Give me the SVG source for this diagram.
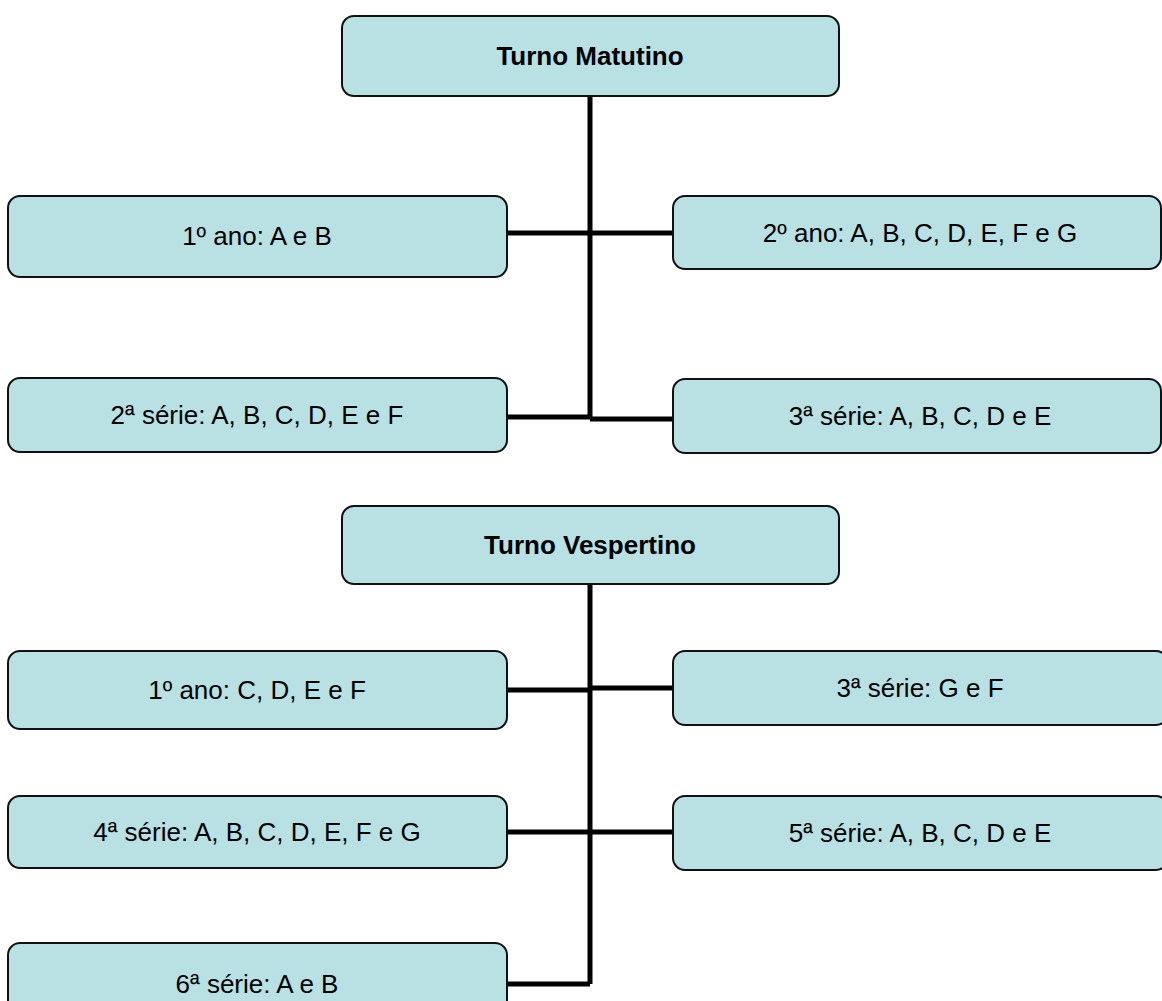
<svg xmlns="http://www.w3.org/2000/svg" width="1162" height="1001" viewBox="0 0 1162 1001">
<style>
.box{fill:#B9E0E3;stroke:#111;stroke-width:2}
.t{font-family:"Liberation Sans",Arial,sans-serif;font-size:26px;fill:#000;text-anchor:middle}
.b{font-weight:bold}
.c{fill:none;stroke:#000;stroke-width:5}
</style>
<rect width="1162" height="1001" fill="#fff"/>
<g id="connectors">
<path class="c" d="M590,96 V418 M507,233 H673 M507,417 H590 M590,419 H673"/>
<path class="c" d="M590,584 V984 M507,690 H590 M590,688 H673 M507,832 H673 M507,984 H590"/>
</g>
<g id="turno-matutino"><rect class="box" x="342" y="16" width="497" height="80" rx="12"/><text class="t b" x="590" y="65">Turno Matutino</text></g>
<g id="m-1ano"><rect class="box" x="8" y="196" width="499" height="81" rx="12"/><text class="t" x="257" y="245">1º ano: A e B</text></g>
<g id="m-2ano"><rect class="box" x="673" y="196" width="488" height="73" rx="12"/><text class="t" x="920" y="242">2º ano: A, B, C, D, E, F e G</text></g>
<g id="m-2serie"><rect class="box" x="8" y="378" width="499" height="74" rx="12"/><text class="t" x="257" y="424">2ª série: A, B, C, D, E e F</text></g>
<g id="m-3serie"><rect class="box" x="673" y="379" width="488" height="74" rx="12"/><text class="t" x="920" y="425">3ª série: A, B, C, D e E</text></g>
<g id="turno-vespertino"><rect class="box" x="342" y="506" width="497" height="78" rx="12"/><text class="t b" x="590" y="554">Turno Vespertino</text></g>
<g id="v-1ano"><rect class="box" x="8" y="651" width="499" height="78" rx="12"/><text class="t" x="257" y="699">1º ano: C, D, E e F</text></g>
<g id="v-3serie"><rect class="box" x="673" y="651" width="495" height="74" rx="12"/><text class="t" x="920" y="697">3ª série: G e F</text></g>
<g id="v-4serie"><rect class="box" x="8" y="796" width="499" height="72" rx="12"/><text class="t" x="257" y="841">4ª série: A, B, C, D, E, F e G</text></g>
<g id="v-5serie"><rect class="box" x="673" y="796" width="495" height="74" rx="12"/><text class="t" x="920" y="842">5ª série: A, B, C, D e E</text></g>
<g id="v-6serie"><rect class="box" x="8" y="943" width="499" height="80" rx="12"/><text class="t" x="257" y="993">6ª série: A e B</text></g>
</svg>
